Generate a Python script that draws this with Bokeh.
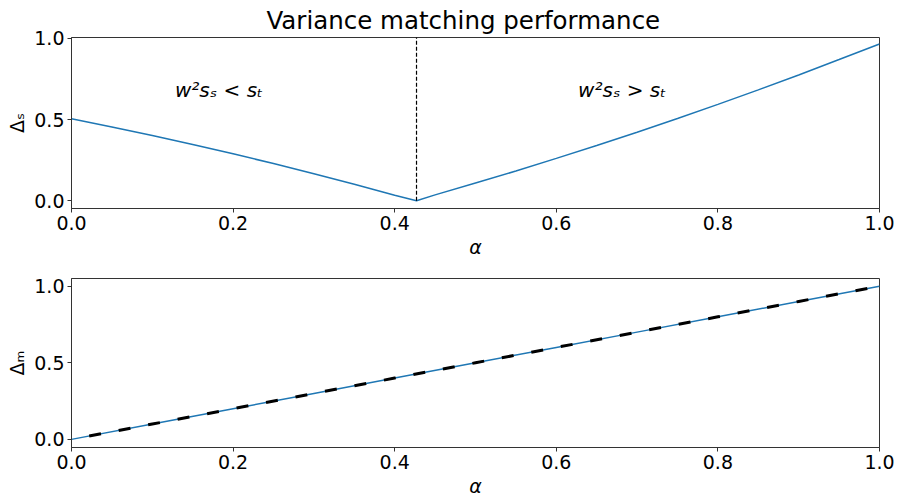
from bokeh.plotting import figure
from bokeh.layouts import column
from bokeh.models import Range1d, FixedTicker, PrintfTickFormatter, ColumnDataSource
from bokeh.core.properties import value
from bokeh.embed import file_html
from bokeh.resources import INLINE

# ---- data ----
alpha_s = [0.00, 0.05, 0.10, 0.15, 0.20, 0.25, 0.30, 0.35, 0.40, 0.427,
           0.45, 0.50, 0.55, 0.60, 0.65, 0.70, 0.75, 0.80, 0.85, 0.90, 0.95, 1.00]
delta_s = [0.505, 0.455, 0.402, 0.347, 0.289, 0.229, 0.166, 0.101, 0.034, 0.000,
           0.036, 0.109, 0.183, 0.261, 0.340, 0.422, 0.507, 0.594, 0.683, 0.775, 0.870, 0.966]
split_alpha = 0.427
region_labels = ["w²sₛ < sₜ", "w²sₛ > sₜ"]
region_x = [0.128, 0.627]
region_y = [0.68, 0.68]

alpha_m = [0.0, 0.1, 0.2, 0.3, 0.4, 0.5, 0.6, 0.7, 0.8, 0.9, 1.0]
delta_m = [0.0, 0.1, 0.2, 0.3, 0.4, 0.5, 0.6, 0.7, 0.8, 0.9, 1.0]
delta_m_ref = [0.0, 0.1, 0.2, 0.3, 0.4, 0.5, 0.6, 0.7, 0.8, 0.9, 1.0]

x_ticks = [0.0, 0.2, 0.4, 0.6, 0.8, 1.0]
y_ticks = [0.0, 0.5, 1.0]

FONT = "DejaVu Sans"
BLUE = "#1f77b4"
FRAME = "#333333"


def style(p, ylabel):
    p.xgrid.visible = False
    p.ygrid.visible = False
    p.outline_line_color = FRAME
    p.outline_line_width = 1
    for ax in (p.xaxis[0], p.yaxis[0]):
        ax.major_label_text_font = FONT
        ax.major_label_text_font_size = "19px"
        ax.major_label_text_color = "black"
        ax.axis_label_text_font = FONT
        ax.axis_label_text_font_size = "19px"
        ax.axis_label_text_color = "black"
        ax.major_tick_in = 0
        ax.major_tick_out = 4
        ax.major_tick_line_color = FRAME
        ax.minor_tick_line_color = None
        ax.axis_line_color = FRAME
        ax.formatter = PrintfTickFormatter(format="%.1f")
        ax.major_label_standoff = 3
        ax.axis_label_standoff = 3
    p.xaxis.ticker = FixedTicker(ticks=x_ticks)
    p.yaxis.ticker = FixedTicker(ticks=y_ticks)
    p.xaxis.axis_label = "α"
    p.xaxis.axis_label_text_font_style = "italic"
    p.yaxis.axis_label = ylabel
    p.yaxis.axis_label_text_font_style = "normal"


p1 = figure(width=899, height=260, x_range=Range1d(0, 1), y_range=Range1d(-0.048, 1.006),
            output_backend="svg", toolbar_location=None,
            min_border_left=71, min_border_right=20, min_border_top=37, min_border_bottom=52)
p1.title.text = "Variance matching performance"
p1.title.align = "left"
p1.title.offset = 195
p1.title.text_font = FONT
p1.title.text_font_size = "24.5px"
p1.title.text_font_style = "normal"
p1.title.text_color = "black"
p1.title.standoff = 6
style(p1, "Δₛ")

p1.line(alpha_s, delta_s, line_color=BLUE, line_width=1.5)
p1.segment(x0=[split_alpha], y0=[0.0], x1=[split_alpha], y1=[1.1],
           line_color="black", line_width=1.2, line_dash="4 2")
src = ColumnDataSource(dict(x=region_x, y=region_y, t=region_labels))
p1.text(x="x", y="y", text="t", source=src, text_font=value(FONT),
        text_font_size="20px", text_font_style="italic", text_color="black",
        text_baseline="middle", text_align="left")

p2 = figure(width=899, height=239, x_range=Range1d(0, 1), y_range=Range1d(-0.053, 1.05),
            output_backend="svg", toolbar_location=None,
            min_border_left=71, min_border_right=20, min_border_top=18, min_border_bottom=49)
style(p2, "Δₘ")
p2.line(alpha_m, delta_m, line_color=BLUE, line_width=1.5)
p2.line(alpha_m, delta_m_ref, line_color="black", line_width=3, line_dash="12 18",
        line_dash_offset=12)

layout = column(p1, p2, spacing=0)
open("out.html", "w").write(file_html(layout, INLINE))
